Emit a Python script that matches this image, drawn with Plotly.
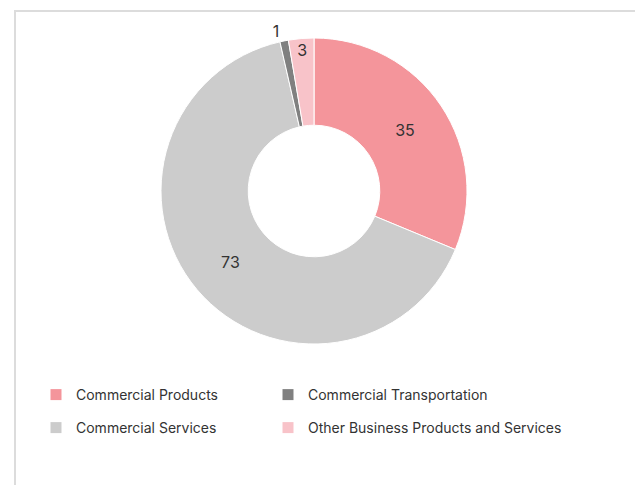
import plotly.graph_objects as go

# ---- data ----
labels = ["Commercial Products", "Commercial Services",
          "Commercial Transportation", "Other Business Products and Services"]
values = [35, 73, 1, 3]
colors = ["#F4959B", "#CCCCCC", "#808080", "#F8C3C9"]
# legend layout: two rows x two columns
legend_grid = [["Commercial Products", "Commercial Transportation"],
               ["Commercial Services", "Other Business Products and Services"]]

# page body has an 8px margin; offset the figure accordingly
OX, OY = 8, 8
W, H = 643 - OX, 485 - OY
FONT = "Inter, Lato, 'Open Sans', sans-serif"
color_of = dict(zip(labels, colors))


def px(sx):
    return (sx - OX) / W


def py(sy):
    return 1 - (sy - OY) / H


fig = go.Figure()
fig.add_trace(go.Pie(
    labels=labels, values=values, sort=False, direction="clockwise", rotation=0,
    hole=0.43, textinfo="value", textposition="auto",
    insidetextorientation="horizontal",
    marker=dict(colors=colors, line=dict(color="white", width=1)),
    textfont=dict(family=FONT, size=16, color="#333333"),
    showlegend=False, hoverinfo="label+value",
    domain=dict(x=[px(161), px(467)], y=[py(344), py(38)]),
))

legend_layout = {}
k = 0
row_y = [395, 428]
col_x = [36, 268]
for r, row in enumerate(legend_grid):
    for c, name in enumerate(row):
        k += 1
        lg = "legend" if k == 1 else f"legend{k}"
        fig.add_trace(go.Scatter(
            x=[None], y=[None], mode="markers", name=name, legend=lg,
            marker=dict(symbol="square", size=11, color=color_of[name]),
            showlegend=True, hoverinfo="skip",
        ))
        legend_layout[lg] = dict(
            orientation="h", xanchor="left", yanchor="middle",
            x=px(col_x[c]), y=py(row_y[r]),
            font=dict(family=FONT, size=14, color="#333333"),
            bgcolor="rgba(0,0,0,0)", borderwidth=0,
        )

fig.update_layout(
    width=W, height=H, autosize=False,
    margin=dict(l=0, r=0, t=0, b=0, pad=0),
    paper_bgcolor="white", plot_bgcolor="white",
    font=dict(family=FONT, color="#333333"),
    xaxis=dict(visible=False), yaxis=dict(visible=False),
    shapes=[dict(type="rect", xref="paper", yref="paper",
                 x0=px(15), x1=px(641.5), y0=-0.05, y1=py(11),
                 line=dict(color="#DCDCDC", width=2), layer="below")],
    **legend_layout,
)

fig.write_html("out.html")
